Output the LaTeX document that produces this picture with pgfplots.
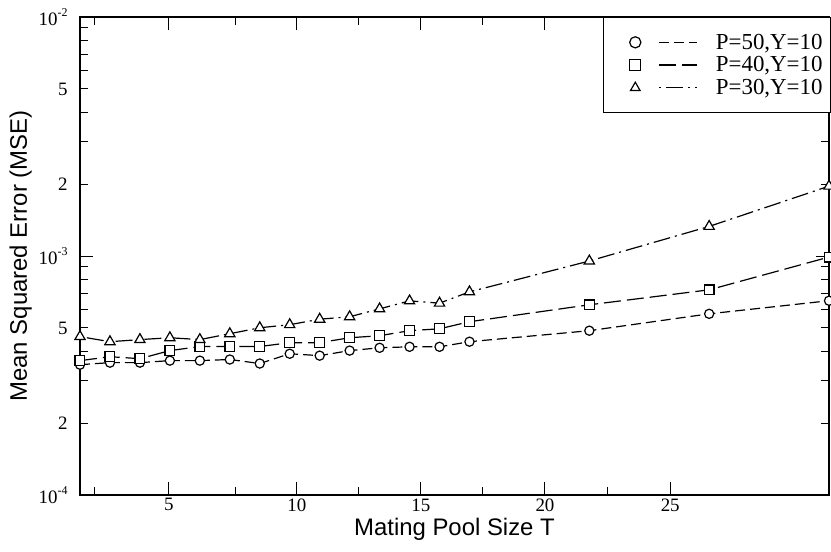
\documentclass[border=0pt]{standalone}
\usepackage{fontspec}
\setmainfont{Liberation Serif}
\setsansfont{Liberation Sans}
\usepackage{pgfplots}
\usepackage{pgfplotstable}
\pgfplotsset{compat=1.18}

% MSE against mating pool size T
\pgfplotstableread{
T    p50      p40      p30
2    3.51e-4  3.65e-4  4.60e-4
3    3.58e-4  3.79e-4  4.38e-4
4    3.58e-4  3.72e-4  4.47e-4
5    3.65e-4  4.02e-4  4.55e-4
6    3.65e-4  4.18e-4  4.47e-4
7    3.69e-4  4.18e-4  4.73e-4
8    3.55e-4  4.18e-4  5.01e-4
9    3.90e-4  4.34e-4  5.16e-4
10   3.83e-4  4.34e-4  5.44e-4
11   4.02e-4  4.55e-4  5.57e-4
12   4.13e-4  4.64e-4  6.01e-4
13   4.17e-4  4.87e-4  6.49e-4
14   4.17e-4  4.96e-4  6.35e-4
15   4.38e-4  5.31e-4  7.08e-4
19   4.87e-4  6.25e-4  9.53e-4
23   5.73e-4  7.22e-4  1.33e-3
27   6.50e-4  9.90e-4  1.96e-3
}\msedata

\newcommand{\dec}[1]{10\raisebox{0.5em}{\fontsize{12}{12}\selectfont #1}}

\begin{document}
\begin{tikzpicture}
\begin{axis}[
  scale only axis, width=749bp, height=478bp,
  xmin=2, xmax=27, ymode=log, ymin=1e-4, ymax=1e-2,
  xtick={4.97,9.24,13.38,17.52,21.7}, xticklabels={5,10,15,20,25},
  minor xtick={2.5,7.2,11.3,15.45,19.6},
  ytick={1e-4,1e-3,1e-2}, yticklabels={\dec{-4},\dec{-3},\dec{-2}},
  extra y ticks={2e-4,5e-4,2e-3,5e-3}, extra y tick labels={2,5,2,5},
  extra y tick style={major tick length=8bp},
  tick align=inside, major tick length=13bp, minor tick length=8bp,
  axis line style={line width=1.3bp},
  tick style={line width=1bp, black},
  ticklabel style={font=\fontsize{19}{19}\selectfont},
  yticklabel style={xshift=-9bp},
  xlabel={Mating Pool Size T}, ylabel={Mean Squared Error (MSE)},
  label style={font=\sffamily\fontsize{24}{26}\selectfont},
  legend cell align=left,
  legend style={at={(axis description cs:1.0027,1)}, anchor=north east,
    draw=black, line width=0.9bp, inner xsep=6bp, inner ysep=14bp,
    row sep=1bp, font=\fontsize{23}{25}\selectfont, nodes={inner ysep=2.5bp},
    /tikz/every odd column/.append style={column sep=16bp}},
  legend image code/.code={%
    \path[draw=none] (-26bp,0bp) -- (62bp,0bp);
    \draw[#1,mark size=5.6bp] plot coordinates {(0bp,0bp)};
    \draw[#1,mark=none] (24bp,0bp) -- (62bp,0bp);},
]
\addplot[black, line width=1.2bp, dash pattern=on 10bp off 5bp,
  mark=*, mark size=4.6bp, mark options={solid, fill=white, line width=1.2bp}]
  table[x=T, y=p50] {\msedata};
\addplot[black, line width=1.2bp, dash pattern=on 17bp off 6bp,
  mark=square*, mark size=4.9bp, mark options={solid, fill=white, line width=1.2bp}]
  table[x=T, y=p40] {\msedata};
\addplot[black, line width=1.2bp, dash pattern=on 2bp off 5bp on 17bp off 5bp,
  mark=triangle*, mark size=5.9bp, mark options={solid, fill=white, line width=1.2bp}]
  table[x=T, y=p30] {\msedata};
\legend{P=50{,}Y=10, P=40{,}Y=10, P=30{,}Y=10}
\end{axis}
\pgfresetboundingbox
\path[use as bounding box] (-80bp,-57bp) rectangle (751bp,495bp);
\end{tikzpicture}
\end{document}
